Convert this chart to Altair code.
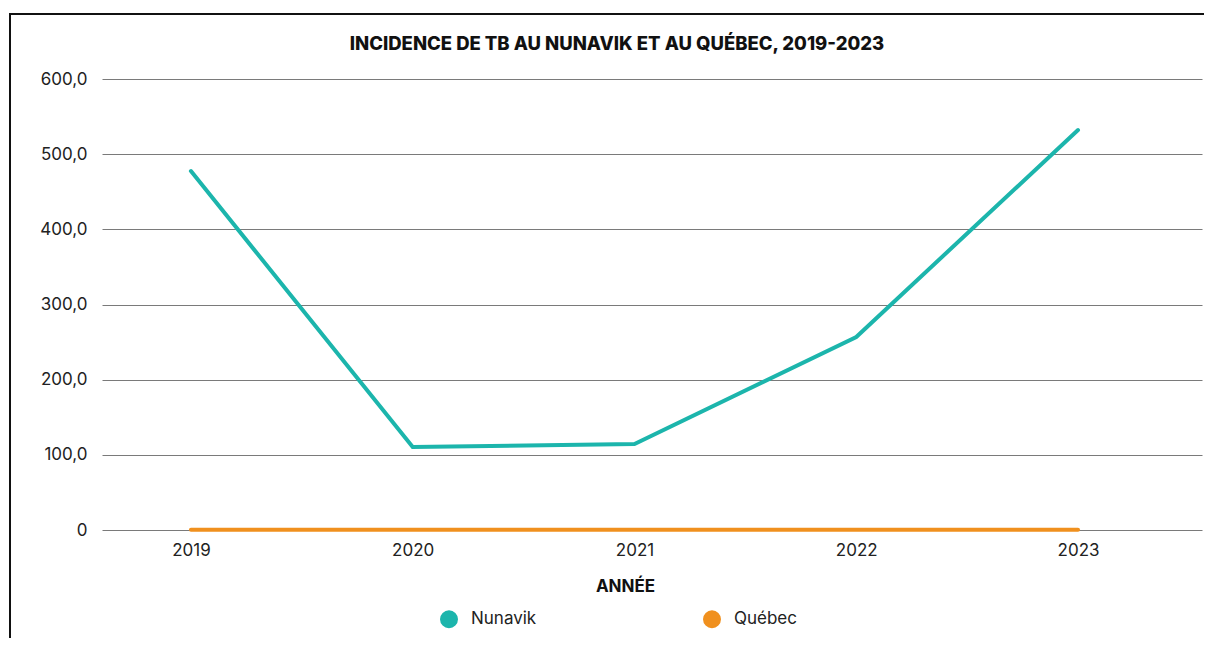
import altair as alt
import pandas as pd

years = [2019, 2020, 2021, 2022, 2023]
nunavik = [477.6, 110.4, 114.4, 256.8, 532.1]
quebec = [0.4, 0.4, 0.4, 0.4, 0.4]
series_names = ["Nunavik", "Québec"]
series_colors = ["#1CB5AC", "#F0901E"]
title_text = "INCIDENCE DE TB AU NUNAVIK ET AU QUÉBEC, 2019-2023"

rows = []
for y, v in zip(years, nunavik):
    rows.append({"annee": y, "serie": "Nunavik", "valeur": v})
for y, v in zip(years, quebec):
    rows.append({"annee": y, "serie": "Québec", "valeur": v})
df = pd.DataFrame(rows)

FONT = "Inter"
FS = 17
W, H = 1100, 451

lines = alt.Chart(df).mark_line(strokeWidth=4, strokeCap="round", strokeJoin="miter").encode(
    x=alt.X("annee:Q",
            scale=alt.Scale(domain=[2018.599, 2023.559], nice=False, zero=False),
            axis=alt.Axis(values=years, format="d", grid=False, ticks=False, domain=False,
                          labelPadding=12, labelFontSize=FS, labelColor="#222222", labelFont=FONT,
                          title="ANNÉE", titleFont=FONT, titleFontSize=FS, titleFontWeight="bold",
                          titleColor="#111111", titleX=523, titleY=61, titleBaseline="alphabetic",
                          titleAlign="center")),
    y=alt.Y("valeur:Q",
            scale=alt.Scale(domain=[0, 600], nice=False),
            axis=alt.Axis(values=[0, 100, 200, 300, 400, 500, 600],
                          labelExpr="datum.value == 0 ? '0' : replace(format(datum.value, '.1f'), '.', ',')",
                          grid=True, gridColor="#7a7a7a", gridWidth=1, ticks=False, domain=False,
                          labelPadding=15, labelFontSize=FS, labelColor="#222222", labelFont=FONT,
                          title=None)),
    color=alt.Color("serie:N",
                    scale=alt.Scale(domain=series_names, range=series_colors),
                    legend=alt.Legend(orient="none", legendX=338, legendY=531, direction="horizontal",
                                      title=None, symbolType="circle", symbolSize=81,
                                      symbolStrokeWidth=9, symbolOpacity=1,
                                      labelFont=FONT, labelFontSize=FS, labelColor="#222222",
                                      labelOffset=13, columnPadding=152)),
    order=alt.Order("annee:Q"),
)

frame = alt.Chart(pd.DataFrame({"k": [0]})).mark_rect(
    fill=None, filled=False, stroke="#111111", strokeWidth=2
).encode(
    x=alt.value(-92), x2=alt.value(W + 60), y=alt.value(-65), y2=alt.value(H + 200)
)

title = alt.Chart(pd.DataFrame({"t": [title_text]})).mark_text(
    font=FONT, fontSize=18.5, fontWeight=800, color="#111111", align="center", baseline="alphabetic"
).encode(text="t:N", x=alt.value(515), y=alt.value(-29))

chart = alt.layer(frame, lines, title).properties(
    width=W, height=H,
    autosize=alt.AutoSizeParams(type="none"),
    padding={"left": 94, "top": 71, "right": 2, "bottom": 108},
).configure(background="white").configure_view(stroke=None)

chart.save("out.html", embed_options={"renderer": "svg", "actions": False})
